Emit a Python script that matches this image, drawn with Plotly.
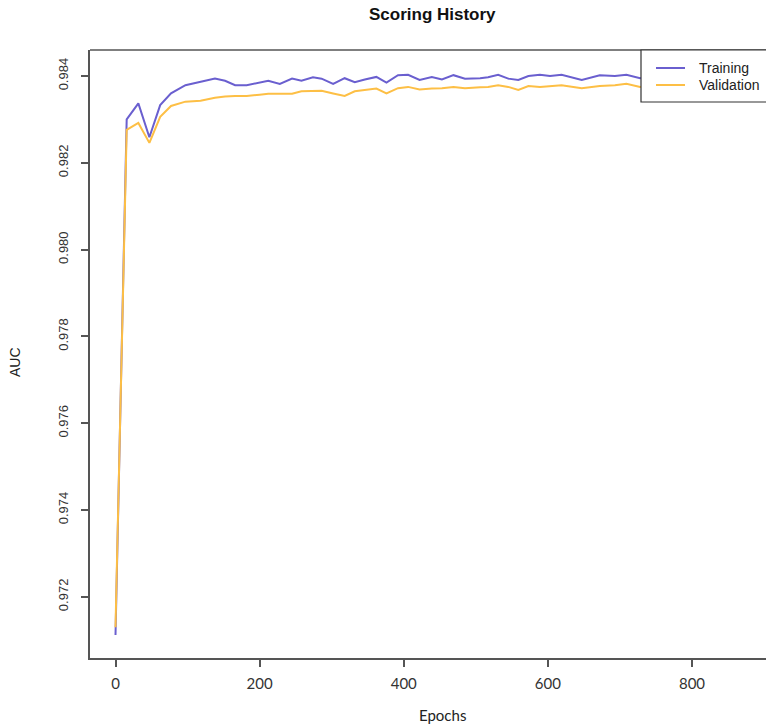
import plotly.graph_objects as go

epochs = [0, 15.5, 31.7, 47, 62, 77, 97, 118, 138, 152, 166, 182, 200, 212, 228, 245,
          258, 274, 286, 302, 318, 332, 346, 362, 376, 392, 406, 422, 439, 453, 469,
          485, 506, 517, 531, 545, 559, 573, 589, 603, 619, 647, 672, 693, 709, 728,
          750, 780, 810, 840, 872]

training_auc = [0.97112, 0.98300, 0.98337, 0.98259, 0.98333, 0.98360, 0.98379, 0.98386,
                0.98394, 0.98389, 0.98379, 0.98379, 0.98385, 0.98389, 0.98382, 0.98394,
                0.98389, 0.98397, 0.98394, 0.98382, 0.98395, 0.98386, 0.98392, 0.98398,
                0.98385, 0.98402, 0.98403, 0.98391, 0.98398, 0.98392, 0.98402, 0.98394,
                0.98395, 0.98397, 0.98403, 0.98394, 0.98391, 0.98400, 0.98403, 0.98400,
                0.98403, 0.98391, 0.98402, 0.98400, 0.98403, 0.98395, 0.98400, 0.98403,
                0.98398, 0.98402, 0.98400]

validation_auc = [0.97130, 0.98276, 0.98292, 0.98246, 0.98306, 0.98331, 0.98341, 0.98343,
                  0.98350, 0.98353, 0.98354, 0.98354, 0.98357, 0.98359, 0.98359, 0.98359,
                  0.98365, 0.98366, 0.98366, 0.98360, 0.98354, 0.98365, 0.98368, 0.98371,
                  0.98360, 0.98372, 0.98375, 0.98369, 0.98371, 0.98372, 0.98375, 0.98372,
                  0.98374, 0.98375, 0.98379, 0.98375, 0.98368, 0.98377, 0.98375, 0.98377,
                  0.98379, 0.98372, 0.98377, 0.98379, 0.98382, 0.98375, 0.98378, 0.98380,
                  0.98377, 0.98380, 0.98379]

series_names = ["Training", "Validation"]
x_ticks = [0, 200, 400, 600, 800]
y_ticks = [0.972, 0.974, 0.976, 0.978, 0.980, 0.982, 0.984]
y_tick_labels = ["0.972", "0.974", "0.976", "0.978", "0.980", "0.982", "0.984"]

BLUE = "#6a5fcf"
ORANGE = "#fdbf45"
COLORS = [BLUE, ORANGE]
AXIS = "#555555"

# plot area in pixels: x 90..766, y 50..658
PL, PW, PT, PH = 90, 676, 50, 608


def px_x(px):
    return (px - PL) / PW


def px_y(py):
    return (PT + PH - py) / PH


fig = go.Figure()
fig.add_trace(go.Scatter(x=epochs, y=training_auc, mode="lines", name=series_names[0],
                         line=dict(color=BLUE, width=2), showlegend=False))
fig.add_trace(go.Scatter(x=epochs, y=validation_auc, mode="lines", name=series_names[1],
                         line=dict(color=ORANGE, width=2), showlegend=False))

shapes = [
    dict(type="line", xref="paper", yref="paper", x0=0, x1=1, y0=1, y1=1,
         line=dict(color=AXIS, width=1.5)),
    # legend box
    dict(type="rect", xref="paper", yref="paper", x0=px_x(641), x1=px_x(775),
         y0=px_y(102), y1=px_y(50), fillcolor="white", line=dict(color="#333333", width=1.2),
         layer="above"),
]
annotations = [
    dict(text="<b>Scoring History</b>", xref="paper", yref="paper",
         x=px_x(432), y=px_y(14), xanchor="center", yanchor="middle",
         showarrow=False, font=dict(size=17, family="Liberation Sans, Arial, sans-serif",
                                    color="#111111")),
    dict(text="Epochs", xref="paper", yref="paper",
         x=px_x(443), y=px_y(715), xanchor="center", yanchor="middle",
         showarrow=False, font=dict(size=15, family="Lato, sans-serif", color="#222222")),
    dict(text="AUC", xref="paper", yref="paper", textangle=-90,
         x=px_x(15), y=px_y(362), xanchor="center", yanchor="middle",
         showarrow=False, font=dict(size=14, family="Liberation Sans, Arial, sans-serif",
                                    color="#222222")),
]
for i, (name, col) in enumerate(zip(series_names, COLORS)):
    yy = 68 + 17 * i
    shapes.append(dict(type="line", xref="paper", yref="paper", x0=px_x(656), x1=px_x(685),
                       y0=px_y(yy), y1=px_y(yy), line=dict(color=col, width=2),
                       layer="above"))
    annotations.append(dict(text=name, xref="paper", yref="paper", x=px_x(697), y=px_y(yy),
                            xanchor="left", yanchor="middle", showarrow=False,
                            font=dict(size=14, family="Liberation Sans, Arial, sans-serif",
                                      color="#222222")))

fig.update_layout(
    width=766, height=727,
    margin=dict(l=90, r=0, t=50, b=69),
    paper_bgcolor="white", plot_bgcolor="white",
    font=dict(family="Liberation Sans, Arial, sans-serif", color="#222222"),
    showlegend=False,
    xaxis=dict(range=[-35.4, 902.7], tickvals=x_ticks, ticks="outside", ticklen=7,
               tickcolor=AXIS, tickwidth=1.5, showline=True, linecolor=AXIS, linewidth=1.5,
               showgrid=False, zeroline=False,
               tickfont=dict(family="Lato, sans-serif", size=15, color="#333333"),
               ticklabelstandoff=4),
    yaxis=dict(range=[0.97059, 0.98460], tickvals=y_ticks, ticktext=y_tick_labels,
               ticks="outside", ticklen=7, tickcolor=AXIS, tickwidth=1.5,
               showline=True, linecolor=AXIS, linewidth=1.5, showgrid=False, zeroline=False,
               tickangle=-90,
               tickfont=dict(family="Liberation Sans, Arial, sans-serif", size=13, color="#333333"),
               ticklabelstandoff=8),
    shapes=shapes,
    annotations=annotations,
)

fig.write_html("out.html")
